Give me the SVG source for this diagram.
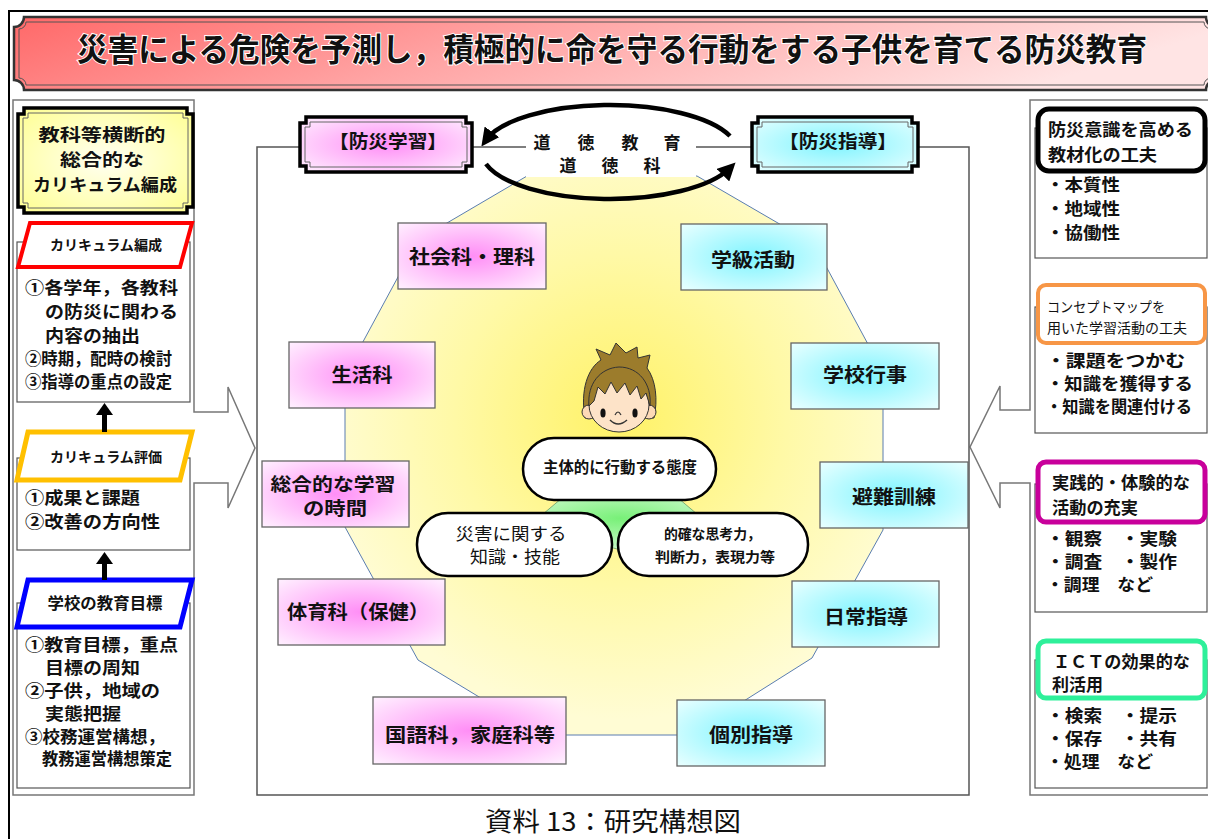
<svg xmlns="http://www.w3.org/2000/svg" width="1208" height="839" viewBox="0 0 1208 839">
<style>
.t{font-family:"Noto Sans CJK JP","Noto Sans CJK SC",sans-serif;fill:#111;font-weight:bold}
.n{font-weight:normal}
.box{stroke:#666;stroke-width:1.3}
.thin{fill:#fff;stroke:#555;stroke-width:1.2}
.col{fill:#fff;stroke:#777;stroke-width:1.5}
.pill{fill:#fff;stroke:#000;stroke-width:2.5}
.arc{fill:none;stroke:#000;stroke-width:4.5}
</style>
<defs>
<linearGradient id="gTitle" x1="0" y1="0" x2="1" y2="0.2">
<stop offset="0" stop-color="#ff6868"/><stop offset="0.45" stop-color="#ffa4a4"/><stop offset="1" stop-color="#ffe4e4"/>
</linearGradient>
<radialGradient id="gYellow" cx="0.5" cy="0.5" r="0.7">
<stop offset="0" stop-color="#fffff2"/><stop offset="1" stop-color="#ffff90"/>
</radialGradient>
<radialGradient id="gPink" cx="0.5" cy="0.5" r="0.7">
<stop offset="0" stop-color="#ff8ef6"/><stop offset="1" stop-color="#fff0ff"/>
</radialGradient>
<radialGradient id="gCyan" cx="0.5" cy="0.5" r="0.7">
<stop offset="0" stop-color="#7ff4ff"/><stop offset="1" stop-color="#e9ffff"/>
</radialGradient>
<radialGradient id="gOct" gradientUnits="userSpaceOnUse" cx="620" cy="420" r="300">
<stop offset="0" stop-color="#fff266"/><stop offset="0.55" stop-color="#fff9a6"/><stop offset="1" stop-color="#fffcd4"/>
</radialGradient>
<radialGradient id="gGreen" cx="0.5" cy="0.4" r="0.6">
<stop offset="0" stop-color="#78f078"/><stop offset="1" stop-color="#c6f9c6"/>
</radialGradient>
<marker id="ah" markerUnits="userSpaceOnUse" markerWidth="18" markerHeight="18" viewBox="0 0 16 16" refX="9" refY="8" orient="auto">
<path d="M0,0 L16,8 L0,16 Z" fill="#000"/>
</marker>
</defs>

<rect width="1208" height="839" fill="#fff"/>
<!-- outer page frame -->
<rect x="9" y="11" width="1220" height="840" fill="none" stroke="#000" stroke-width="2"/>

<!-- title banner -->
<g id="title">
<path d="M14,27 A10,10 0 0 0 24,17 H1206 A10,10 0 0 0 1216,27 V80 A10,10 0 0 0 1206,90 H24 A10,10 0 0 0 14,80 Z" fill="url(#gTitle)" stroke="#333" stroke-width="2.5"/>
<path d="M19,29 A7,7 0 0 0 26,22 H1204 A7,7 0 0 0 1211,29 V78 A7,7 0 0 0 1204,85 H26 A7,7 0 0 0 19,78 Z" fill="none" stroke="#555" stroke-width="1"/>
<text class="t" x="612" y="61" font-size="32" text-anchor="middle" textLength="1070" lengthAdjust="spacingAndGlyphs" stroke="#fff" stroke-width="2" paint-order="stroke">災害による危険を予測し，積極的に命を守る行動をする子供を育てる防災教育</text>
</g>

<!-- left column -->
<g id="left-column">
<path class="col" d="M13,100 H194 V412 H228 V387 L255,448 L228,508 V483 H194 V795 H13 Z"/>
</g>

<g id="cross-curricular">
<path d="M24,108 H187 V114 H193 V207 H187 V213 H24 V207 H18 V114 H24 Z" fill="url(#gYellow)" stroke="#000" stroke-width="3.5"/>
<path d="M28,113 H183 V118 H188 V203 H183 V208 H28 V203 H23 V118 H28 Z" fill="none" stroke="#666" stroke-width="1"/>
<text class="t" font-size="17.5" text-anchor="middle">
<tspan x="104" y="141" textLength="127" lengthAdjust="spacingAndGlyphs">教科等横断的</tspan>
<tspan x="104" y="166" textLength="84" lengthAdjust="spacingAndGlyphs">総合的な</tspan>
<tspan x="105" y="191" textLength="144" lengthAdjust="spacingAndGlyphs">カリキュラム編成</tspan>
</text>
</g>

<g id="curriculum-design">
<rect class="thin" x="17" y="242" width="173" height="160"/>
<polygon points="30,223 192,223 180,267 18,267" fill="#fff" stroke="#ff0000" stroke-width="4"/>
<text class="t" x="106" y="250" font-size="14" text-anchor="middle" textLength="112" lengthAdjust="spacingAndGlyphs">カリキュラム編成</text>
<text class="t" font-size="16.5">
<tspan x="25" y="294" textLength="153" lengthAdjust="spacingAndGlyphs">①各学年，各教科</tspan>
<tspan x="45" y="318" textLength="133" lengthAdjust="spacingAndGlyphs">の防災に関わる</tspan>
<tspan x="45" y="342" textLength="95" lengthAdjust="spacingAndGlyphs">内容の抽出</tspan>
<tspan x="25" y="365" textLength="147" lengthAdjust="spacingAndGlyphs">②時期，配時の検討</tspan>
<tspan x="25" y="388" textLength="147" lengthAdjust="spacingAndGlyphs">③指導の重点の設定</tspan>
</text>
</g>

<g id="curriculum-evaluation">
<rect class="thin" x="17" y="458" width="173" height="92"/>
<polygon points="28,432 192,432 180,480 17,480" fill="#fff" stroke="#ffc000" stroke-width="5"/>
<text class="t" x="106" y="462" font-size="14" text-anchor="middle" textLength="112" lengthAdjust="spacingAndGlyphs">カリキュラム評価</text>
<text class="t" font-size="17">
<tspan x="25" y="504" textLength="115" lengthAdjust="spacingAndGlyphs">①成果と課題</tspan>
<tspan x="25" y="528" textLength="135" lengthAdjust="spacingAndGlyphs">②改善の方向性</tspan>
</text>
</g>

<g id="school-goals">
<rect class="thin" x="17" y="603" width="173" height="185"/>
<polygon points="28,580 192,580 180,627 17,627" fill="#fff" stroke="#0000ff" stroke-width="5"/>
<text class="t" x="105" y="609" font-size="16" text-anchor="middle" textLength="115" lengthAdjust="spacingAndGlyphs">学校の教育目標</text>
<text class="t" font-size="16.5">
<tspan x="25" y="651" textLength="153" lengthAdjust="spacingAndGlyphs">①教育目標，重点</tspan>
<tspan x="45" y="674" textLength="95" lengthAdjust="spacingAndGlyphs">目標の周知</tspan>
<tspan x="25" y="697" textLength="135" lengthAdjust="spacingAndGlyphs">②子供，地域の</tspan>
<tspan x="45" y="720" textLength="76" lengthAdjust="spacingAndGlyphs">実態把握</tspan>
<tspan x="25" y="743" textLength="140" lengthAdjust="spacingAndGlyphs">③校務運営構想，</tspan>
<tspan x="42" y="765" textLength="130" lengthAdjust="spacingAndGlyphs">教務運営構想策定</tspan>
</text>
</g>

<!-- right column -->
<g id="right-column">
<path class="col" d="M1212,100 H1030 V410 H1000 V386 L970,447 L1000,508 V483 H1030 V795 H1212"/>
</g>

<g id="materials">
<rect class="thin" x="1035" y="128" width="172" height="130"/>
<rect x="1038" y="109" width="167" height="62" rx="11" fill="#fff" stroke="#000" stroke-width="5"/>
<text class="t" font-size="17">
<tspan x="1048" y="136" textLength="145" lengthAdjust="spacingAndGlyphs">防災意識を高める</tspan>
<tspan x="1048" y="161" textLength="109" lengthAdjust="spacingAndGlyphs">教材化の工夫</tspan>
<tspan x="1046" y="191" textLength="74" lengthAdjust="spacingAndGlyphs">・本質性</tspan>
<tspan x="1046" y="215" textLength="74" lengthAdjust="spacingAndGlyphs">・地域性</tspan>
<tspan x="1046" y="239" textLength="74" lengthAdjust="spacingAndGlyphs">・協働性</tspan>
</text>
</g>

<g id="concept-map">
<rect class="thin" x="1035" y="307" width="172" height="126"/>
<rect x="1038" y="285" width="167" height="58" rx="8" fill="#fff" stroke="#f79646" stroke-width="4"/>
<text class="t n" font-size="14">
<tspan x="1047" y="312" textLength="118" lengthAdjust="spacingAndGlyphs">コンセプトマップを</tspan>
<tspan x="1047" y="333" textLength="140" lengthAdjust="spacingAndGlyphs">用いた学習活動の工夫</tspan>
</text>
<text class="t" font-size="17">
<tspan x="1046" y="367" textLength="139" lengthAdjust="spacingAndGlyphs">・課題をつかむ</tspan>
<tspan x="1046" y="390" textLength="147" lengthAdjust="spacingAndGlyphs">・知識を獲得する</tspan>
<tspan x="1046" y="413" textLength="146" lengthAdjust="spacingAndGlyphs">・知識を関連付ける</tspan>
</text>
</g>

<g id="hands-on">
<rect class="thin" x="1035" y="484" width="172" height="128"/>
<rect x="1038" y="462" width="167" height="60" rx="8" fill="#fff" stroke="#c8009b" stroke-width="5"/>
<text class="t" font-size="17">
<tspan x="1052" y="489" textLength="138" lengthAdjust="spacingAndGlyphs">実践的・体験的な</tspan>
<tspan x="1052" y="514" textLength="86" lengthAdjust="spacingAndGlyphs">活動の充実</tspan>
<tspan x="1046" y="545" textLength="131" lengthAdjust="spacingAndGlyphs">・観察　・実験</tspan>
<tspan x="1046" y="568" textLength="131" lengthAdjust="spacingAndGlyphs">・調査　・製作</tspan>
<tspan x="1046" y="591" textLength="107" lengthAdjust="spacingAndGlyphs">・調理　など</tspan>
</text>
</g>

<g id="ict">
<rect class="thin" x="1035" y="660" width="172" height="128"/>
<rect x="1038" y="641" width="167" height="57" rx="8" fill="#fff" stroke="#2ef09a" stroke-width="5"/>
<text class="t" font-size="17">
<tspan x="1053" y="668" textLength="137" lengthAdjust="spacingAndGlyphs">ＩＣＴの効果的な</tspan>
<tspan x="1052" y="691" textLength="51" lengthAdjust="spacingAndGlyphs">利活用</tspan>
<tspan x="1046" y="722" textLength="131" lengthAdjust="spacingAndGlyphs">・検索　・提示</tspan>
<tspan x="1046" y="745" textLength="131" lengthAdjust="spacingAndGlyphs">・保存　・共有</tspan>
<tspan x="1046" y="768" textLength="107" lengthAdjust="spacingAndGlyphs">・処理　など</tspan>
</text>
</g>

<!-- centre panel -->
<rect id="centre-frame" x="257" y="147" width="712" height="648" fill="#fff" stroke="#555" stroke-width="1.5"/>
<polygon id="ring" points="527,176 697,176 814,244 883,372 883,530 812,658 690,735 542,735 418,660 345,527 345,375 418,240" fill="url(#gOct)" stroke="#5a7db0" stroke-width="1"/>

<g id="subject-social-science">
<rect class="box" x="398" y="223" width="148" height="66" fill="url(#gPink)"/>
<text class="t" x="472" y="264" font-size="19" text-anchor="middle" textLength="126" lengthAdjust="spacingAndGlyphs">社会科・理科</text>
</g>
<g id="subject-life">
<rect class="box" x="289" y="342" width="146" height="66" fill="url(#gPink)"/>
<text class="t" x="362" y="382" font-size="19" text-anchor="middle" textLength="61" lengthAdjust="spacingAndGlyphs">生活科</text>
</g>
<g id="subject-integrated">
<rect class="box" x="262" y="461" width="147" height="66" fill="url(#gPink)"/>
<text class="t" font-size="18" text-anchor="middle">
<tspan x="335" y="491" textLength="125" lengthAdjust="spacingAndGlyphs">総合的な学習</tspan>
<tspan x="335" y="515" textLength="64" lengthAdjust="spacingAndGlyphs">の時間</tspan>
</text>
</g>
<g id="subject-pe">
<rect class="box" x="278" y="579" width="167" height="66" fill="url(#gPink)"/>
<text class="t" x="358" y="619" font-size="19" text-anchor="middle" textLength="142" lengthAdjust="spacingAndGlyphs">体育科（保健）</text>
</g>
<g id="subject-japanese">
<rect class="box" x="373" y="697" width="193" height="67" fill="url(#gPink)"/>
<text class="t" x="470" y="742" font-size="19" text-anchor="middle" textLength="170" lengthAdjust="spacingAndGlyphs">国語科，家庭科等</text>
</g>

<g id="class-activities">
<rect class="box" x="681" y="224" width="146" height="66" fill="url(#gCyan)"/>
<text class="t" x="753" y="267" font-size="19" text-anchor="middle" textLength="84" lengthAdjust="spacingAndGlyphs">学級活動</text>
</g>
<g id="school-events">
<rect class="box" x="791" y="343" width="148" height="66" fill="url(#gCyan)"/>
<text class="t" x="865" y="382" font-size="19" text-anchor="middle" textLength="84" lengthAdjust="spacingAndGlyphs">学校行事</text>
</g>
<g id="evacuation-drill">
<rect class="box" x="820" y="462" width="148" height="66" fill="url(#gCyan)"/>
<text class="t" x="894" y="504" font-size="19" text-anchor="middle" textLength="84" lengthAdjust="spacingAndGlyphs">避難訓練</text>
</g>
<g id="daily-guidance">
<rect class="box" x="792" y="581" width="147" height="66" fill="url(#gCyan)"/>
<text class="t" x="866" y="624" font-size="19" text-anchor="middle" textLength="84" lengthAdjust="spacingAndGlyphs">日常指導</text>
</g>
<g id="individual-guidance">
<rect class="box" x="677" y="700" width="148" height="66" fill="url(#gCyan)"/>
<text class="t" x="751" y="742" font-size="19" text-anchor="middle" textLength="84" lengthAdjust="spacingAndGlyphs">個別指導</text>
</g>

<!-- heading plaques -->
<g id="disaster-learning">
<path d="M306,117 H466 V123 H472 V166 H466 V172 H306 V166 H300 V123 H306 Z" fill="url(#gPink)" stroke="#000" stroke-width="3.5"/>
<path d="M310,122 H462 V127 H467 V162 H462 V167 H310 V162 H305 V127 H310 Z" fill="none" stroke="#666" stroke-width="1"/>
<text class="t" x="388" y="148" font-size="18" text-anchor="middle" textLength="118" lengthAdjust="spacingAndGlyphs">【防災学習】</text>
</g>
<g id="disaster-guidance">
<path d="M758,117 H912 V123 H918 V166 H912 V172 H758 V166 H752 V123 H758 Z" fill="url(#gCyan)" stroke="#000" stroke-width="3.5"/>
<path d="M762,122 H908 V127 H913 V162 H908 V167 H762 V162 H757 V127 H762 Z" fill="none" stroke="#666" stroke-width="1"/>
<text class="t" x="838" y="148" font-size="18" text-anchor="middle" textLength="118" lengthAdjust="spacingAndGlyphs">【防災指導】</text>
</g>
<g id="moral-education">
<rect x="526" y="124" width="170" height="53" fill="#fff"/>
<text class="t" font-size="17" text-anchor="middle">
<tspan x="542 586 630 674" y="149">道徳教育</tspan>
<tspan x="568 610 652" y="172">道徳科</tspan>
</text>
</g>

<!-- connectors -->
<g id="connectors">
<path class="arc" d="M730,136 A128,47 0 0 0 486,140" marker-end="url(#ah)"/>
<path class="arc" d="M486,164 A128,47 0 0 0 730,168" marker-end="url(#ah)"/>
<rect x="102" y="413" width="5" height="19" fill="#000"/>
<polygon points="96,415 113,415 104.5,403" fill="#000"/>
<rect x="102" y="562" width="5" height="18" fill="#000"/>
<polygon points="96,564 113,564 104.5,552" fill="#000"/>
</g>

<!-- three qualities -->
<g id="qualities">
<polygon points="530,525 562,498 678,498 710,525 617,549" fill="url(#gGreen)" stroke="#6a9a6a" stroke-width="0.8"/>
<rect class="pill" x="523" y="438" width="193" height="62" rx="31"/>
<text class="t" x="620" y="473" font-size="16" text-anchor="middle" textLength="154" lengthAdjust="spacingAndGlyphs">主体的に行動する態度</text>
<rect class="pill" x="417" y="513" width="195" height="63" rx="31"/>
<text class="t n" font-size="17" text-anchor="middle">
<tspan x="513" y="540" textLength="111" lengthAdjust="spacingAndGlyphs">災害に関する</tspan>
<tspan x="515" y="563" textLength="90" lengthAdjust="spacingAndGlyphs">知識・技能</tspan>
</text>
<rect class="pill" x="618" y="513" width="190" height="63" rx="31"/>
<text class="t" font-size="14" text-anchor="middle">
<tspan x="714" y="539" textLength="97" lengthAdjust="spacingAndGlyphs">的確な思考力，</tspan>
<tspan x="715" y="562" textLength="120" lengthAdjust="spacingAndGlyphs">判断力，表現力等</tspan>
</text>
</g>

<!-- child figure -->
<g id="child">
<path d="M585,418 C580,390 588,368 601,360 L596,349 L610,355 L616,343 L626,353 L637,347 L638,358 L650,355 L647,368 C656,380 658,400 654,418 Z" fill="#9c7c2c" stroke="#333" stroke-width="1"/>
<circle cx="589" cy="412" r="7" fill="#fcd9b6" stroke="#333" stroke-width="1"/>
<circle cx="649" cy="412" r="7" fill="#fcd9b6" stroke="#333" stroke-width="1"/>
<ellipse cx="619" cy="405" rx="30" ry="27" fill="#fde3c8" stroke="#333" stroke-width="1"/>
<path d="M589,406 C587,384 600,368 619,367 C639,367 652,384 650,406 L646,393 L641,399 L637,386 L630,395 L625,383 L617,393 L611,382 L605,394 L598,387 L594,401 Z" fill="#9c7c2c" stroke="#333" stroke-width="1"/>
<ellipse cx="603" cy="413" rx="2.6" ry="4.5" fill="#111"/>
<ellipse cx="635" cy="413" rx="2.6" ry="4.5" fill="#111"/>
<path d="M615,415 Q618,409 621,415" fill="none" stroke="#333" stroke-width="1.2"/>
<path d="M610,420 Q618,428 627,420" fill="none" stroke="#333" stroke-width="1.5"/>
</g>

<text class="t n" x="613" y="831" font-size="26" text-anchor="middle" textLength="256" lengthAdjust="spacingAndGlyphs">資料 13：研究構想図</text>
</svg>
